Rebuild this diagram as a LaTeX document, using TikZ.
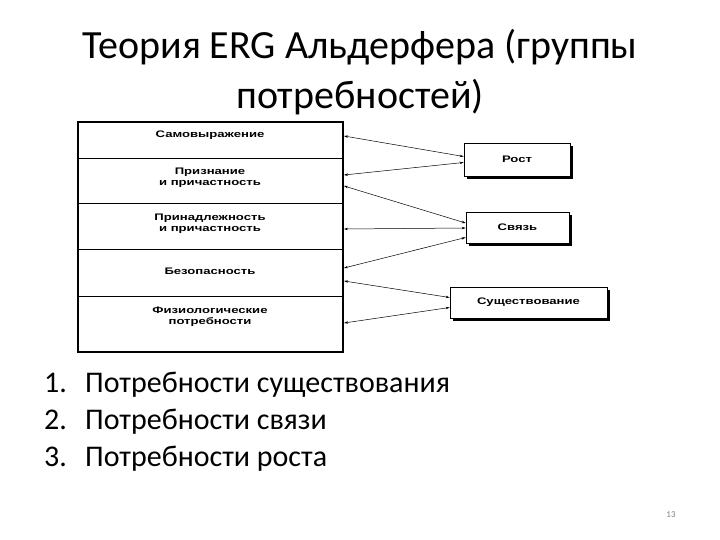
\documentclass[tikz,border=0pt]{standalone}
\usepackage{fontspec}
\setmainfont{Carlito}
\newfontfamily\boxfont{Liberation Sans}
\usetikzlibrary{arrows.meta}
\newcommand{\widetxt}[1]{\scalebox{1.38}[1]{#1}}
\begin{document}
\begin{tikzpicture}[x=1pt,y=-1pt,
  layertext/.style={font=\boxfont\fontsize{9.5}{11}\selectfont\bfseries, align=center, inner sep=0pt},
  rbox/.style={draw=black, line width=0.8pt, fill=white, font=\boxfont\fontsize{9.5}{11}\selectfont\bfseries, inner sep=0pt},
  shadowbox/.style={fill=black},
  conn/.style={{Stealth[length=4pt,width=2.5pt]}-{Stealth[length=4pt,width=2.5pt]}, line width=0.5pt},
  listnum/.style={anchor=base west, font=\fontsize{30}{37}\selectfont, inner sep=0pt},
  listtext/.style={anchor=base west, font=\fontsize{30}{37}\selectfont, inner sep=0pt}]
\useasboundingbox (0,0) rectangle (720,540);
% title
\node[font=\fontsize{40}{50}\selectfont, align=center, inner sep=0pt] (title) at (360,72) {Теория ERG Альдерфера (группы\\потребностей)};
% big box
\draw[line width=1.3pt] (78,122) rectangle (343,352);
\draw[line width=0.9pt] (78,158) -- (343,158);
\draw[line width=0.9pt] (78,203) -- (343,203);
\draw[line width=0.9pt] (78,249) -- (343,249);
\draw[line width=0.9pt] (78,296) -- (343,296);
\node[layertext] (l1) at (210,135) {\widetxt{Самовыражение}};
\node[layertext] (l2) at (210,178) {\widetxt{Признание}\\\widetxt{и причастность}};
\node[layertext] (l3) at (210,224) {\widetxt{Принадлежность}\\\widetxt{и причастность}};
\node[layertext] (l4) at (210,271) {\widetxt{Безопасность}};
\node[layertext] (l5) at (210,317) {\widetxt{Физиологические}\\\widetxt{потребности}};
% right boxes
\fill[shadowbox] (467,146) rectangle (573,179);
\node[rbox, minimum width=106pt, minimum height=33pt] (rost) at (517,159.5) {\widetxt{Рост}};
\fill[shadowbox] (469,215) rectangle (572,246);
\node[rbox, minimum width=103pt, minimum height=31pt] (svyaz) at (517.5,227.5) {\widetxt{Связь}};
\fill[shadowbox] (453,290) rectangle (610,321);
\node[rbox, minimum width=157pt, minimum height=31pt] (sush) at (528.5,302.5) {\widetxt{Существование}};
% edge points
\coordinate (e1) at (344,136);
\coordinate (e2) at (344,175);
\coordinate (e3) at (344,186);
\coordinate (e4) at (344,229);
\coordinate (e5) at (344,268);
\coordinate (e6) at (344,281);
\coordinate (e7) at (344,323);
\draw[conn] (e1) -- ([yshift=3pt]rost.west);
\draw[conn] (e2) -- ([yshift=-3pt]rost.west);
\draw[conn] (e3) -- ([yshift=4.5pt]svyaz.west);
\draw[conn] (e4) -- ([yshift=-0.5pt]svyaz.west);
\draw[conn] (e5) -- ([yshift=-10pt]svyaz.west);
\draw[conn] (e6) -- ([yshift=5pt]sush.west);
\draw[conn] (e7) -- ([yshift=-5pt]sush.west);
% list
\node[listnum] (n1) at (44,392) {1.};
\node[listtext] (t1) at (85,392) {Потребности существования};
\node[listnum] (n2) at (44,429) {2.};
\node[listtext] (t2) at (85,429) {Потребности связи};
\node[listnum] (n3) at (44,466) {3.};
\node[listtext] (t3) at (85,466) {Потребности роста};
% page number
\node[font=\fontsize{9}{10}\selectfont, text=gray] (pg) at (671,515) {13};
\end{tikzpicture}
\end{document}
